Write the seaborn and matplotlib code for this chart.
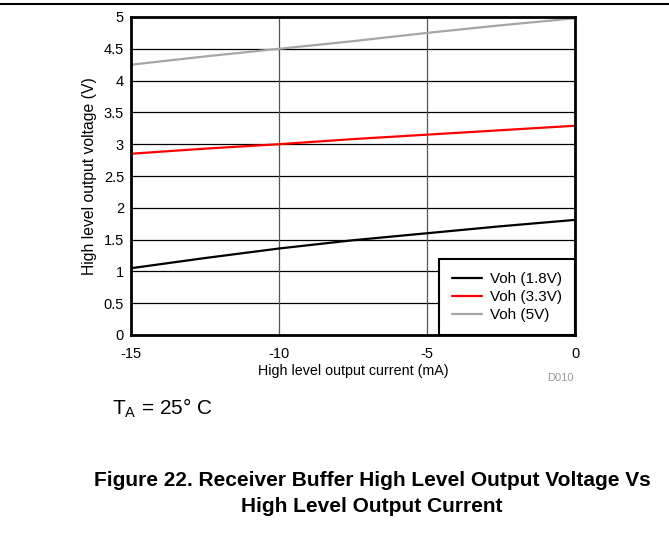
import numpy as np
import pandas as pd
import matplotlib.pyplot as plt
import seaborn as sns

current_ma = [-15, -12.5, -10, -7.5, -5, -2.5, 0]
voh_1v8 = [1.05, 1.21, 1.36, 1.49, 1.60, 1.71, 1.81]
voh_3v3 = [2.85, 2.93, 3.00, 3.08, 3.15, 3.22, 3.29]
voh_5v = [4.25, 4.38, 4.50, 4.62, 4.75, 4.87, 4.98]
series_names = ['Voh (1.8V)', 'Voh (3.3V)', 'Voh (5V)']
series_colors = ['black', 'red', '#a6a6a6']

df = pd.DataFrame({'I': current_ma * 3,
                   'V': voh_1v8 + voh_3v3 + voh_5v,
                   'series': np.repeat(series_names, len(current_ma))})

sns.set_style('white')
plt.rcParams['font.family'] = ['Liberation Sans', 'DejaVu Sans']
plt.rcParams['axes.unicode_minus'] = False
plt.rcParams['text.color'] = 'black'
plt.rcParams['axes.labelcolor'] = 'black'
plt.rcParams['xtick.color'] = 'black'
plt.rcParams['ytick.color'] = 'black'

fig = plt.figure(figsize=(6.69, 5.39), dpi=100)
ax = fig.add_axes([131 / 669, 1 - 335 / 539, 444 / 669, 318 / 539])

sns.lineplot(data=df, x='I', y='V', hue='series', palette=series_colors,
             linewidth=1.6, ax=ax)

ax.set_xlim(-15, 0)
ax.set_ylim(0, 5)
ax.set_xticks([-15, -10, -5, 0])
ax.set_yticks(np.arange(0, 5.01, 0.5))
ax.set_yticklabels(['0', '0.5', '1', '1.5', '2', '2.5', '3', '3.5', '4', '4.5', '5'])
ax.tick_params(axis='y', labelsize=10.5, length=0, pad=5)
ax.tick_params(axis='x', labelsize=10.5, length=0, pad=9)
for v in np.arange(0.5, 5, 0.5):
    ax.axhline(v, color='black', lw=0.9, zorder=0)
for v in [-10, -5]:
    ax.axvline(v, color='#555555', lw=0.9, zorder=0)
for s in ax.spines.values():
    s.set_color('black')
    s.set_linewidth(2)

ax.set_xlabel('High level output current (mA)', fontsize=10.3, labelpad=2)
ax.set_ylabel('High level output voltage (V)', fontsize=11.3, labelpad=5)

leg = ax.legend(loc='lower right', fontsize=11, frameon=True, fancybox=False,
                framealpha=1, borderaxespad=0, handlelength=2.0, labelspacing=0.25,
                borderpad=0.85, handletextpad=0.5)
leg.get_frame().set_edgecolor('black')
leg.get_frame().set_linewidth(1.5)
for h in leg.get_lines():
    h.set_linewidth(1.6)

fig.add_artist(plt.Line2D([0, 1], [1 - 4 / 539, 1 - 4 / 539], color='black', lw=1.5))
fig.text(560 / 669, 1 - 378 / 539, 'D010', fontsize=8, color='#999999', va='center', ha='center')
fig.text(112 / 669, 1 - 408 / 539, r'T$_\mathregular{A}$ = 25° C', fontsize=15, va='center')
fig.text(372 / 669, 1 - 481 / 539, 'Figure 22. Receiver Buffer High Level Output Voltage Vs',
         fontsize=15, weight='bold', ha='center', va='center')
fig.text(372 / 669, 1 - 506 / 539, 'High Level Output Current',
         fontsize=15, weight='bold', ha='center', va='center')

fig.savefig('out.png', dpi=100)
